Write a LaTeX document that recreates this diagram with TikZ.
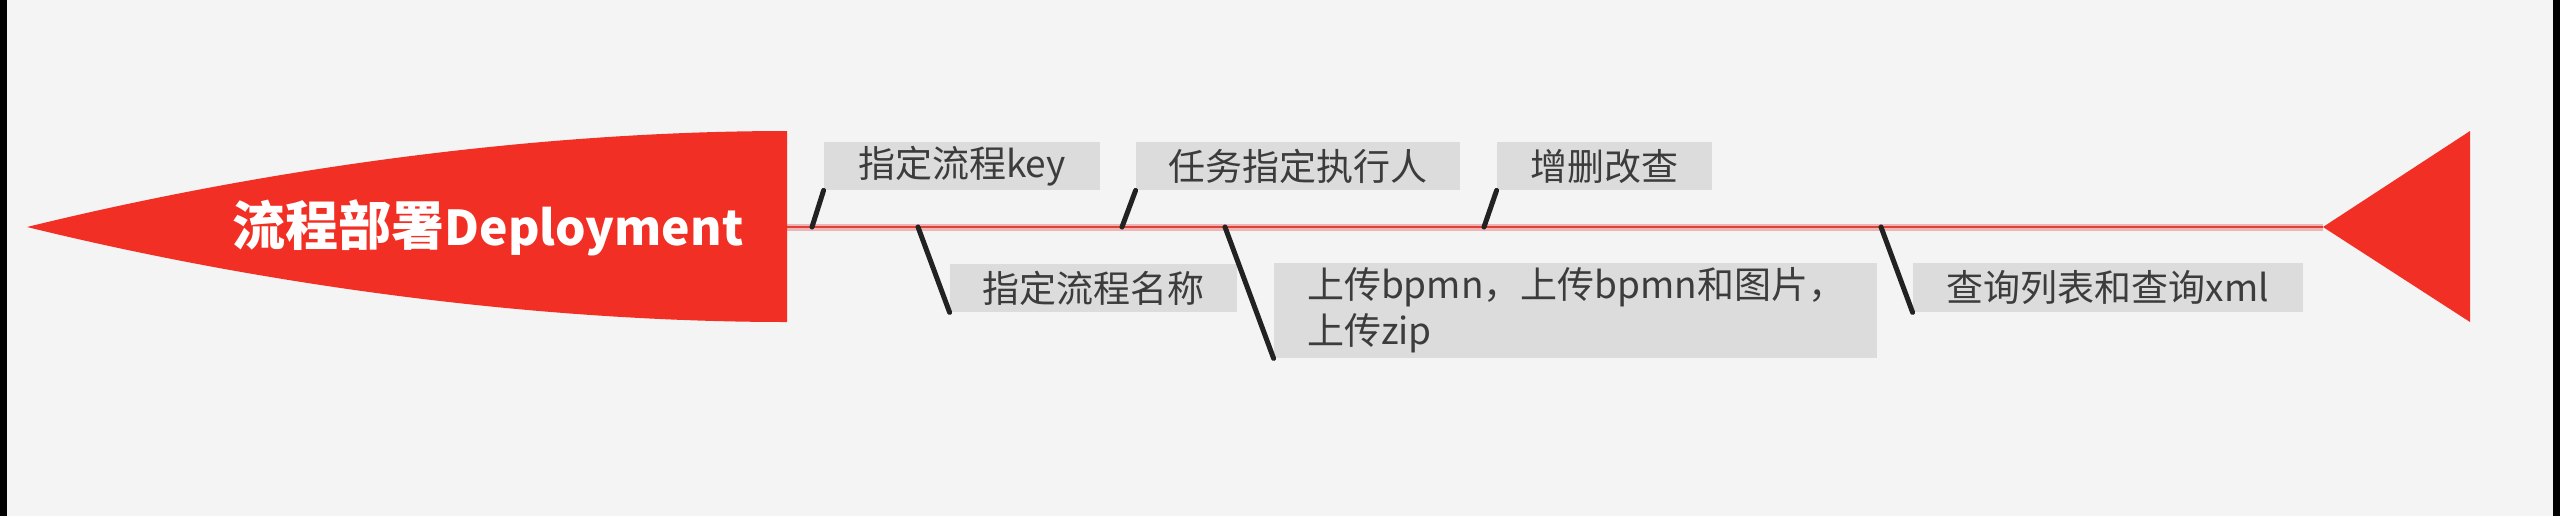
\documentclass[tikz,border=0pt]{standalone}
\usepackage{fontspec}
\setmainfont{Noto Sans CJK SC}
\definecolor{bg}{HTML}{F4F4F4}
\definecolor{redfill}{HTML}{F22F24}
\definecolor{spinered}{HTML}{E0403A}
\definecolor{boxgray}{HTML}{DCDCDC}
\definecolor{txtgray}{HTML}{3C3C3C}
\definecolor{conngray}{HTML}{222222}
\tikzset{
  lbl/.style={fill=boxgray, text=txtgray, font=\fontsize{18.5}{23}\selectfont, inner sep=0pt, minimum height=24pt},
  conn/.style={draw=conngray, line width=2.5pt, line cap=round},
}
\begin{document}
\begin{tikzpicture}[x=0.5pt, y=-0.5pt]
\useasboundingbox (0,0) rectangle (2560,516);
\fill[bg] (0,0) rectangle (2560,516);
\fill[black] (0,0) rectangle (7,516);
\fill[black] (2553,0) rectangle (2560,516);
% spine
\coordinate (spL) at (787,227);
\coordinate (spR) at (2323,227);
\draw[spinered, opacity=0.35, line width=3.5pt] (spL) -- (spR);
\draw[spinered, line width=1.3pt] (spL) -- (spR);
% head (bullet)
\fill[redfill] (27,227) .. controls (280,165) and (550,131) .. (787,131)
  -- (787,322) .. controls (550,322) and (280,289) .. (27,227) -- cycle;
% tail triangle
\fill[redfill] (spR) -- (2470,131) -- (2470,322) -- cycle;
\node[text=white, font=\bfseries\fontsize{26.5}{30}\selectfont, inner sep=0pt] (title) at (488,228) {流程部署{\fontsize{24}{30}\selectfont Deployment}};
% boxes
\node[lbl, minimum width=138pt] (b1) at (962,166) {指定流程key};
\node[lbl, minimum width=162pt] (b2) at (1298,166) {任务指定执行人};
\node[lbl, minimum width=107.5pt] (b3) at (1604.5,166) {增删改查};
\node[lbl, minimum width=143.5pt] (b4) at (1093.5,288) {指定流程名称};
\node[lbl, minimum width=301.5pt, minimum height=47.5pt, inner xsep=16.5pt, text width=268.5pt, align=left] (b5) at (1575.5,310.5) {上传bpmn，上传bpmn和图片，\\上传zip};
\node[lbl, minimum width=195pt, minimum height=24.5pt] (b6) at (2108,287.5) {查询列表和查询xml};
% spine points
\coordinate (s1) at (812,227);
\coordinate (s2) at (1122,227);
\coordinate (s3) at (1484,227);
\coordinate (s4) at (918,227);
\coordinate (s5) at (1225,227);
\coordinate (s6) at (1881,227);
\draw[conn] (s1) -- (b1.south west);
\draw[conn] (s2) -- (b2.south west);
\draw[conn] (s3) -- (b3.south west);
\draw[conn] (s4) -- (b4.south west);
\draw[conn] (s5) -- (b5.south west);
\draw[conn] (s6) -- (b6.south west);
\end{tikzpicture}
\end{document}
